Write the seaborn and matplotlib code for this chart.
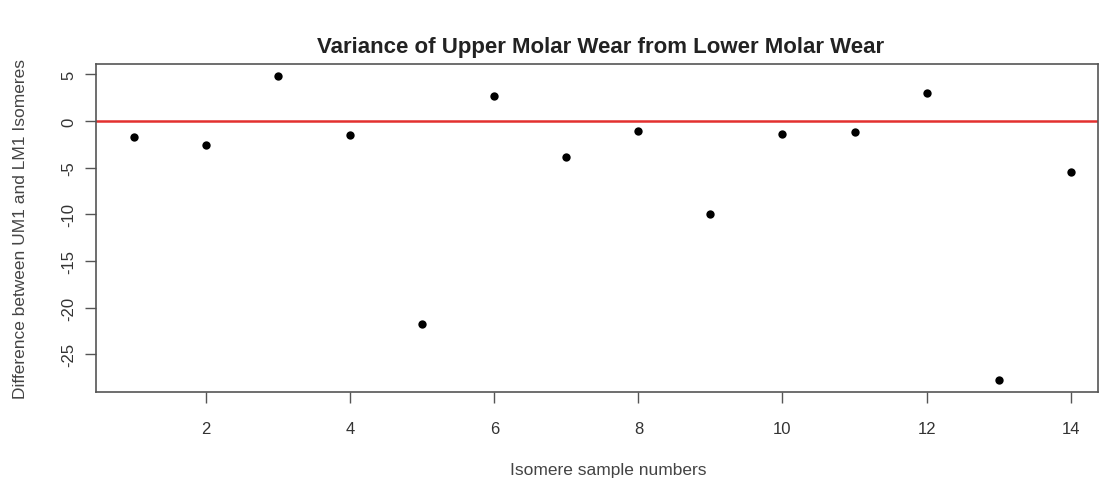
import matplotlib
matplotlib.use("Agg")
import matplotlib.pyplot as plt
import seaborn as sns
import pandas as pd

sample = list(range(1, 15))
difference = [-1.7, -2.6, 4.8, -1.5, -21.7, 2.65, -3.9, -1.1, -10.0, -1.4, -1.2, 3.05, -27.7, -5.5]
xticks = [2, 4, 6, 8, 10, 12, 14]
yticks = [5, 0, -5, -10, -15, -20, -25]

sns.set_style("ticks")
plt.rcParams['font.family'] = ['Liberation Sans', 'DejaVu Sans']

df = pd.DataFrame({"sample": sample, "difference": difference})

fig = plt.figure(figsize=(11.04, 4.81), dpi=100)
ax = fig.add_axes([0.0870, 0.1835, 0.9073, 0.681])

sns.scatterplot(data=df, x="sample", y="difference", ax=ax, color="black",
                s=36, edgecolor="black", linewidth=0, zorder=3)
ax.axhline(0, color="#e3302f", lw=1.8, zorder=2)

yr = max(difference) - min(difference)
ax.set_xlim(0.473, 14.375)
ax.set_ylim(min(difference) - 0.04 * yr, max(difference) + 0.04 * yr)

ax.set_xticks(xticks)
ax.set_yticks(yticks)
ax.set_xticklabels([str(v) for v in xticks], fontsize=12, color="#333333")
ax.set_yticklabels([str(v) for v in yticks], fontsize=12, color="#333333",
                   rotation=90, va="center")
ax.tick_params(axis="both", direction="out", length=8, width=1, color="#555555")
ax.tick_params(axis="x", pad=13)
ax.tick_params(axis="y", pad=6)
for sp in ax.spines.values():
    sp.set_visible(True)
    sp.set_color("#555555")
    sp.set_linewidth(1.2)

ax.set_xlabel("Isomere sample numbers", fontsize=12.5, color="#444444", labelpad=19)
ax.xaxis.label.set_x(0.511)
ax.set_ylabel("Difference between UM1 and LM1 Isomeres", fontsize=12.5, color="#444444", labelpad=24)
fig.suptitle("Variance of Upper Molar Wear from Lower Molar Wear", fontsize=16,
             fontweight="bold", color="#222222", x=0.544, y=0.902, va="center")

fig.savefig("out.png", dpi=100)
